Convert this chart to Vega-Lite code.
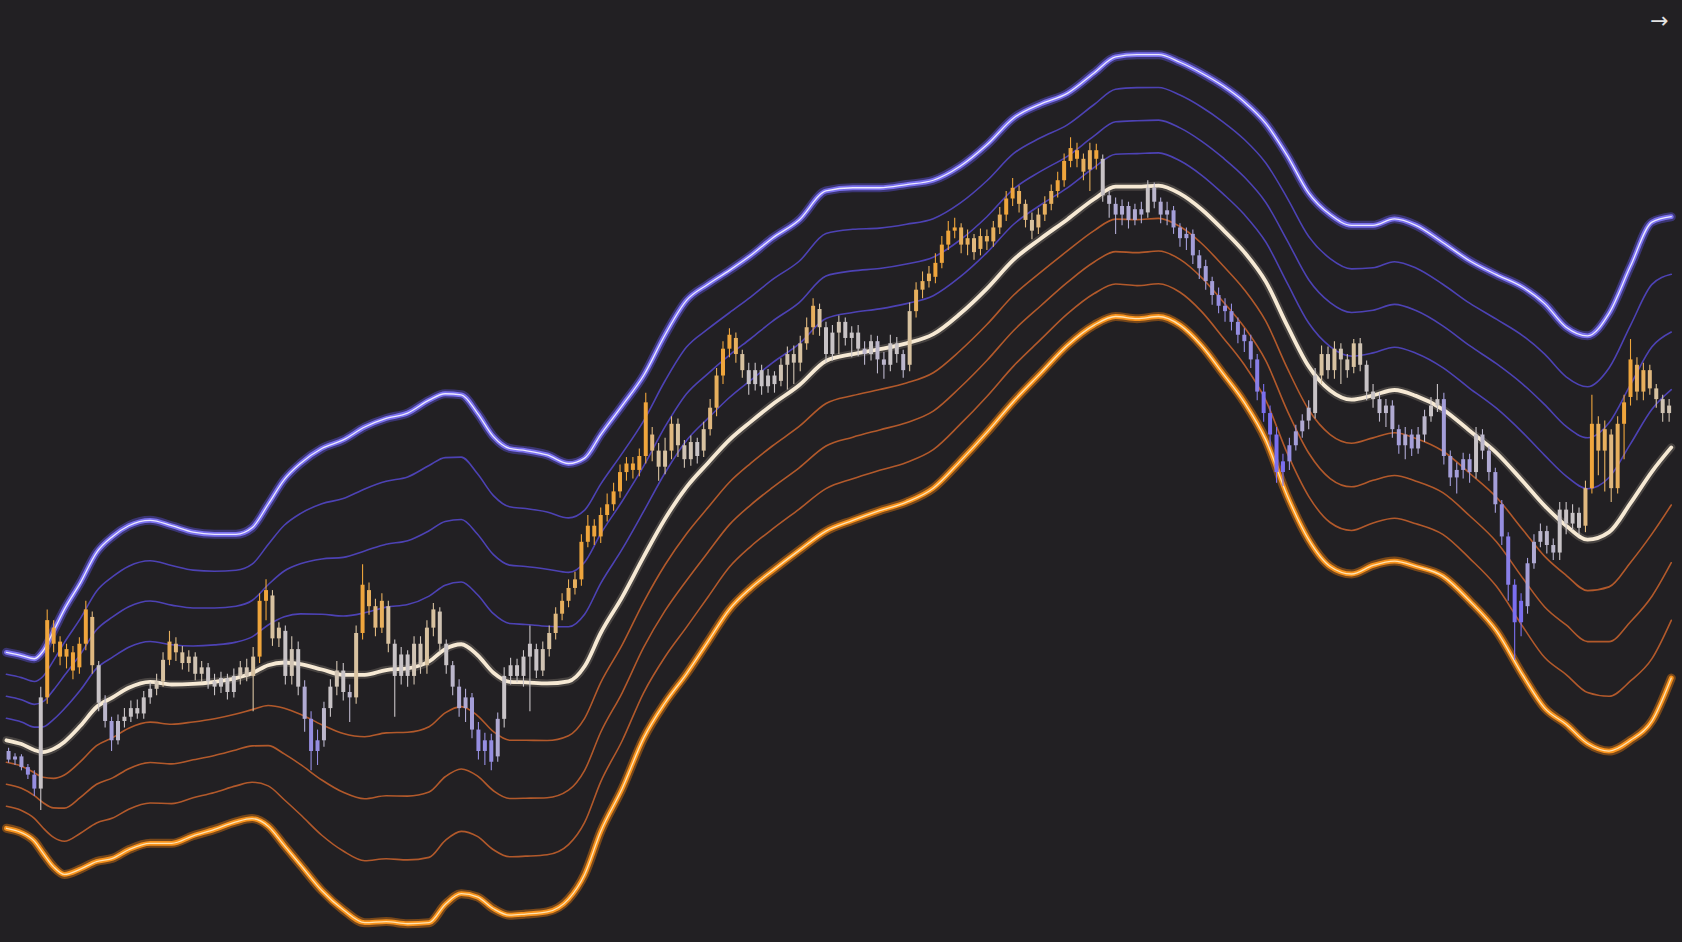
{
"$schema":"https://vega.github.io/schema/vega-lite/v6.json",
"width":1682,"height":942,"padding":0,
"autosize":{"type":"none"},
"background":"#222023",
"config":{"view":{"stroke":null},"axis":{"domain":false,"grid":false,"ticks":false,"labels":false,"title":null},"line":{"strokeJoin":"round","strokeCap":"round"}},
"datasets":{
"bands":[
{"t":6,"l4":106,"l3":126.5,"l2":147,"l1":167.5,"m":188,"u1":208.5,"u2":229,"u3":249.5,"u4":270},
{"t":20,"l4":102,"l3":122.6,"l2":143.3,"l1":163.9,"m":184.5,"u1":205.1,"u2":225.8,"u3":246.4,"u4":267},
{"t":32,"l4":94,"l3":115.3,"l2":136.5,"l1":157.8,"m":179,"u1":200.3,"u2":221.5,"u3":242.8,"u4":264},
{"t":40,"l4":83,"l3":106.5,"l2":130,"l1":153.5,"m":177,"u1":200.5,"u2":224,"u3":247.5,"u4":271},
{"t":50,"l4":70,"l3":97.5,"l2":125,"l1":152.5,"m":180,"u1":207.5,"u2":235,"u3":262.5,"u4":290},
{"t":60,"l4":63,"l3":93.9,"l2":124.8,"l1":155.6,"m":186.5,"u1":217.4,"u2":248.3,"u3":279.1,"u4":310},
{"t":75,"l4":68,"l3":101.4,"l2":134.8,"l1":168.1,"m":201.5,"u1":234.9,"u2":268.3,"u3":301.6,"u4":335},
{"t":90,"l4":75,"l3":111,"l2":147,"l1":183,"m":219,"u1":255,"u2":291,"u3":327,"u4":363},
{"t":105,"l4":78,"l3":115.5,"l2":153,"l1":190.5,"m":228,"u1":265.5,"u2":303,"u3":340.5,"u4":378},
{"t":120,"l4":86,"l3":123.8,"l2":161.5,"l1":199.3,"m":237,"u1":274.8,"u2":312.5,"u3":350.3,"u4":388},
{"t":140,"l4":92,"l3":129.6,"l2":167.3,"l1":204.9,"m":242.5,"u1":280.1,"u2":317.8,"u3":355.4,"u4":393},
{"t":160,"l4":92,"l3":129,"l2":166,"l1":203,"m":240,"u1":277,"u2":314,"u3":351,"u4":388},
{"t":180,"l4":99,"l3":134.4,"l2":169.8,"l1":205.1,"m":240.5,"u1":275.9,"u2":311.3,"u3":346.6,"u4":382},
{"t":200,"l4":105,"l3":139.4,"l2":173.8,"l1":208.1,"m":242.5,"u1":276.9,"u2":311.3,"u3":345.6,"u4":380},
{"t":220,"l4":112,"l3":145.5,"l2":179,"l1":212.5,"m":246,"u1":279.5,"u2":313,"u3":346.5,"u4":380},
{"t":235,"l4":115,"l3":148.9,"l2":182.8,"l1":216.6,"m":250.5,"u1":284.4,"u2":318.3,"u3":352.1,"u4":386},
{"t":250,"l4":108,"l3":145.5,"l2":183,"l1":220.5,"m":258,"u1":295.5,"u2":333,"u3":370.5,"u4":408},
{"t":265,"l4":90,"l3":132.6,"l2":175.3,"l1":217.9,"m":260.5,"u1":303.1,"u2":345.8,"u3":388.4,"u4":431},
{"t":280,"l4":72,"l3":118.8,"l2":165.5,"l1":212.3,"m":259,"u1":305.8,"u2":352.5,"u3":399.3,"u4":446},
{"t":300,"l4":48,"l3":99.5,"l2":151,"l1":202.5,"m":254,"u1":305.5,"u2":357,"u3":408.5,"u4":460},
{"t":320,"l4":30,"l3":84.8,"l2":139.5,"l1":194.3,"m":249,"u1":303.8,"u2":358.5,"u3":413.3,"u4":468},
{"t":340,"l4":18,"l3":75.8,"l2":133.5,"l1":191.3,"m":249,"u1":306.8,"u2":364.5,"u3":422.3,"u4":480},
{"t":360,"l4":19,"l3":77.6,"l2":136.3,"l1":194.9,"m":253.5,"u1":312.1,"u2":370.8,"u3":429.4,"u4":488},
{"t":380,"l4":17,"l3":76.5,"l2":136,"l1":195.5,"m":255,"u1":314.5,"u2":374,"u3":433.5,"u4":493},
{"t":400,"l4":18,"l3":78.9,"l2":139.8,"l1":200.6,"m":261.5,"u1":322.4,"u2":383.3,"u3":444.1,"u4":505},
{"t":415,"l4":35,"l3":94.5,"l2":154,"l1":213.5,"m":273,"u1":332.5,"u2":392,"u3":451.5,"u4":511},
{"t":430,"l4":45,"l3":103.1,"l2":161.3,"l1":219.4,"m":277.5,"u1":335.6,"u2":393.8,"u3":451.9,"u4":510},
{"t":445,"l4":42,"l3":98.4,"l2":154.8,"l1":211.1,"m":267.5,"u1":323.9,"u2":380.3,"u3":436.6,"u4":493},
{"t":460,"l4":31,"l3":86,"l2":141,"l1":196,"m":251,"u1":306,"u2":361,"u3":416,"u4":471},
{"t":475,"l4":25,"l3":79.4,"l2":133.8,"l1":188.1,"m":242.5,"u1":296.9,"u2":351.3,"u3":405.6,"u4":460},
{"t":490,"l4":26,"l3":80,"l2":134,"l1":188,"m":242,"u1":296,"u2":350,"u3":404,"u4":458},
{"t":510,"l4":28,"l3":81.3,"l2":134.5,"l1":187.8,"m":241,"u1":294.3,"u2":347.5,"u3":400.8,"u4":454},
{"t":530,"l4":40,"l3":90.8,"l2":141.5,"l1":192.3,"m":243,"u1":293.8,"u2":344.5,"u3":395.3,"u4":446},
{"t":545,"l4":63,"l3":111.5,"l2":160,"l1":208.5,"m":257,"u1":305.5,"u2":354,"u3":402.5,"u4":451},
{"t":560,"l4":103,"l3":149.3,"l2":195.5,"l1":241.8,"m":288,"u1":334.3,"u2":380.5,"u3":426.8,"u4":473},
{"t":580,"l4":143,"l3":187.6,"l2":232.3,"l1":276.9,"m":321.5,"u1":366.1,"u2":410.8,"u3":455.4,"u4":500},
{"t":600,"l4":190,"l3":232.3,"l2":274.5,"l1":316.8,"m":359,"u1":401.3,"u2":443.5,"u3":485.8,"u4":528},
{"t":620,"l4":223,"l3":265.9,"l2":308.8,"l1":351.6,"m":394.5,"u1":437.4,"u2":480.3,"u3":523.1,"u4":566},
{"t":640,"l4":250,"l3":293.5,"l2":337,"l1":380.5,"m":424,"u1":467.5,"u2":511,"u3":554.5,"u4":598},
{"t":660,"l4":280,"l3":321.6,"l2":363.3,"l1":404.9,"m":446.5,"u1":488.1,"u2":529.8,"u3":571.4,"u4":613},
{"t":680,"l4":310,"l3":349.5,"l2":389,"l1":428.5,"m":468,"u1":507.5,"u2":547,"u3":586.5,"u4":626},
{"t":700,"l4":330,"l3":368.8,"l2":407.5,"l1":446.3,"m":485,"u1":523.8,"u2":562.5,"u3":601.3,"u4":640},
{"t":720,"l4":346,"l3":384.8,"l2":423.5,"l1":462.3,"m":501,"u1":539.8,"u2":578.5,"u3":617.3,"u4":656},
{"t":745,"l4":365,"l3":403.5,"l2":442,"l1":480.5,"m":519,"u1":557.5,"u2":596,"u3":634.5,"u4":673},
{"t":770,"l4":383,"l3":422.6,"l2":462.3,"l1":501.9,"m":541.5,"u1":581.1,"u2":620.8,"u3":660.4,"u4":700},
{"t":795,"l4":393,"l3":431.8,"l2":470.5,"l1":509.3,"m":548,"u1":586.8,"u2":625.5,"u3":664.3,"u4":703},
{"t":820,"l4":402,"l3":439.6,"l2":477.3,"l1":514.9,"m":552.5,"u1":590.1,"u2":627.8,"u3":665.4,"u4":703},
{"t":845,"l4":410,"l3":447,"l2":484,"l1":521,"m":558,"u1":595,"u2":632,"u3":669,"u4":706},
{"t":870,"l4":423,"l3":458.9,"l2":494.8,"l1":530.6,"m":566.5,"u1":602.4,"u2":638.3,"u3":674.1,"u4":710},
{"t":895,"l4":448,"l3":482.4,"l2":516.8,"l1":551.1,"m":585.5,"u1":619.9,"u2":654.3,"u3":688.6,"u4":723},
{"t":920,"l4":475,"l3":508.5,"l2":542,"l1":575.5,"m":609,"u1":642.5,"u2":676,"u3":709.5,"u4":743},
{"t":945,"l4":504,"l3":537,"l2":570,"l1":603,"m":636,"u1":669,"u2":702,"u3":735,"u4":768},
{"t":970,"l4":530,"l3":561.4,"l2":592.8,"l1":624.1,"m":655.5,"u1":686.9,"u2":718.3,"u3":749.6,"u4":781},
{"t":995,"l4":556,"l3":585.4,"l2":614.8,"l1":644.1,"m":673.5,"u1":702.9,"u2":732.3,"u3":761.6,"u4":791},
{"t":1020,"l4":575,"l3":604.4,"l2":633.8,"l1":663.1,"m":692.5,"u1":721.9,"u2":751.3,"u3":780.6,"u4":810},
{"t":1040,"l4":583,"l3":613.3,"l2":643.5,"l1":673.8,"m":704,"u1":734.3,"u2":764.5,"u3":794.8,"u4":825},
{"t":1060,"l4":581,"l3":611.8,"l2":642.5,"l1":673.3,"m":704,"u1":734.8,"u2":765.5,"u3":796.3,"u4":827},
{"t":1080,"l4":583,"l3":613.5,"l2":644,"l1":674.5,"m":705,"u1":735.5,"u2":766,"u3":796.5,"u4":827},
{"t":1100,"l4":575,"l3":605.6,"l2":636.3,"l1":666.9,"m":697.5,"u1":728.1,"u2":758.8,"u3":789.4,"u4":820},
{"t":1120,"l4":556,"l3":587.8,"l2":619.5,"l1":651.3,"m":683,"u1":714.8,"u2":746.5,"u3":778.3,"u4":810},
{"t":1140,"l4":530,"l3":563.5,"l2":597,"l1":630.5,"m":664,"u1":697.5,"u2":731,"u3":764.5,"u4":798},
{"t":1160,"l4":503,"l3":538,"l2":573,"l1":608,"m":643,"u1":678,"u2":713,"u3":748,"u4":783},
{"t":1180,"l4":468,"l3":504.9,"l2":541.8,"l1":578.6,"m":615.5,"u1":652.4,"u2":689.3,"u3":726.1,"u4":763},
{"t":1200,"l4":416,"l3":455.6,"l2":495.3,"l1":534.9,"m":574.5,"u1":614.1,"u2":653.8,"u3":693.4,"u4":733},
{"t":1220,"l4":375,"l3":415.4,"l2":455.8,"l1":496.1,"m":536.5,"u1":576.9,"u2":617.3,"u3":657.6,"u4":698},
{"t":1240,"l4":350,"l3":391,"l2":432,"l1":473,"m":514,"u1":555,"u2":596,"u3":637,"u4":678},
{"t":1260,"l4":343,"l3":383.6,"l2":424.3,"l1":464.9,"m":505.5,"u1":546.1,"u2":586.8,"u3":627.4,"u4":668},
{"t":1280,"l4":351,"l3":390.6,"l2":430.3,"l1":469.9,"m":509.5,"u1":549.1,"u2":588.8,"u3":628.4,"u4":668},
{"t":1300,"l4":355,"l3":394.9,"l2":434.8,"l1":474.6,"m":514.5,"u1":554.4,"u2":594.3,"u3":634.1,"u4":674},
{"t":1320,"l4":350,"l3":389.8,"l2":429.5,"l1":469.3,"m":509,"u1":548.8,"u2":588.5,"u3":628.3,"u4":668},
{"t":1345,"l4":341,"l3":379.9,"l2":418.8,"l1":457.6,"m":496.5,"u1":535.4,"u2":574.3,"u3":613.1,"u4":652},
{"t":1370,"l4":318,"l3":357.6,"l2":397.3,"l1":436.9,"m":476.5,"u1":516.1,"u2":555.8,"u3":595.4,"u4":635},
{"t":1395,"l4":290,"l3":331.5,"l2":373,"l1":414.5,"m":456,"u1":497.5,"u2":539,"u3":580.5,"u4":622},
{"t":1420,"l4":248,"l3":293.3,"l2":338.5,"l1":383.8,"m":429,"u1":474.3,"u2":519.5,"u3":564.8,"u4":610},
{"t":1440,"l4":218,"l3":265.1,"l2":312.3,"l1":359.4,"m":406.5,"u1":453.6,"u2":500.8,"u3":547.9,"u4":595},
{"t":1460,"l4":203,"l3":249.3,"l2":295.5,"l1":341.8,"m":388,"u1":434.3,"u2":480.5,"u3":526.8,"u4":573},
{"t":1480,"l4":185,"l3":232.5,"l2":280,"l1":327.5,"m":375,"u1":422.5,"u2":470,"u3":517.5,"u4":565},
{"t":1500,"l4":178,"l3":229,"l2":280,"l1":331,"m":382,"u1":433,"u2":484,"u3":535,"u4":586},
{"t":1520,"l4":188,"l3":243.3,"l2":298.5,"l1":353.8,"m":409,"u1":464.3,"u2":519.5,"u3":574.8,"u4":630},
{"t":1540,"l4":206,"l3":264.1,"l2":322.3,"l1":380.4,"m":438.5,"u1":496.6,"u2":554.8,"u3":612.9,"u4":671},
{"t":1558,"l4":246,"l3":299.8,"l2":353.5,"l1":407.3,"m":461,"u1":514.8,"u2":568.5,"u3":622.3,"u4":676}
],
"candles":[
{"t":8,"o":178,"c":170,"h":181,"l":167,"z":-1.5},
{"t":14,"o":170,"c":173,"h":176,"l":165,"z":-1.5},
{"t":20,"o":173,"c":163,"h":175,"l":160,"z":-1.5},
{"t":26,"o":163,"c":156,"h":166,"l":152,"z":-2},
{"t":32,"o":156,"c":143,"h":160,"l":136,"z":-2},
{"t":38,"o":143,"c":228,"h":238,"l":123,"z":0},
{"t":44,"o":228,"c":300,"h":310,"l":222,"z":2.5},
{"t":50,"o":293,"c":278,"h":300,"l":270,"z":2.5},
{"t":56,"o":280,"c":266,"h":285,"l":258,"z":2.5},
{"t":62,"o":266,"c":273,"h":278,"l":255,"z":2.5},
{"t":68,"o":270,"c":253,"h":276,"l":245,"z":2.5},
{"t":74,"o":256,"c":278,"h":284,"l":250,"z":2.5},
{"t":80,"o":278,"c":310,"h":318,"l":272,"z":2.5},
{"t":86,"o":303,"c":258,"h":308,"l":250,"z":1.5},
{"t":92,"o":258,"c":223,"h":262,"l":215,"z":0},
{"t":98,"o":223,"c":206,"h":230,"l":200,"z":-0.5},
{"t":104,"o":206,"c":188,"h":210,"l":178,"z":-1.5},
{"t":110,"o":188,"c":206,"h":212,"l":184,"z":-0.5},
{"t":116,"o":206,"c":210,"h":218,"l":200,"z":0},
{"t":122,"o":210,"c":218,"h":225,"l":205,"z":0},
{"t":128,"o":218,"c":213,"h":226,"l":208,"z":0},
{"t":134,"o":213,"c":228,"h":234,"l":208,"z":0},
{"t":140,"o":228,"c":236,"h":242,"l":222,"z":0},
{"t":146,"o":236,"c":243,"h":250,"l":230,"z":0.5},
{"t":152,"o":243,"c":263,"h":270,"l":238,"z":1},
{"t":158,"o":263,"c":280,"h":290,"l":258,"z":2},
{"t":164,"o":278,"c":270,"h":284,"l":262,"z":1.5},
{"t":170,"o":270,"c":260,"h":276,"l":254,"z":1},
{"t":176,"o":260,"c":266,"h":272,"l":252,"z":1},
{"t":182,"o":266,"c":250,"h":270,"l":244,"z":0.5},
{"t":188,"o":250,"c":256,"h":262,"l":242,"z":0.5},
{"t":194,"o":256,"c":243,"h":260,"l":236,"z":0},
{"t":200,"o":243,"c":238,"h":250,"l":230,"z":0},
{"t":206,"o":238,"c":246,"h":252,"l":232,"z":0},
{"t":212,"o":246,"c":233,"h":250,"l":226,"z":0},
{"t":218,"o":233,"c":248,"h":255,"l":228,"z":0},
{"t":224,"o":248,"c":256,"h":262,"l":240,"z":0.5},
{"t":230,"o":256,"c":248,"h":264,"l":243,"z":0.5},
{"t":236,"o":248,"c":266,"h":275,"l":215,"z":1},
{"t":242,"o":266,"c":318,"h":325,"l":260,"z":2.5},
{"t":248,"o":318,"c":328,"h":338,"l":300,"z":2.5},
{"t":254,"o":323,"c":283,"h":328,"l":276,"z":1},
{"t":260,"o":283,"c":293,"h":298,"l":275,"z":1},
{"t":266,"o":290,"c":248,"h":295,"l":240,"z":0},
{"t":272,"o":248,"c":273,"h":285,"l":240,"z":0.5},
{"t":278,"o":273,"c":238,"h":280,"l":230,"z":0},
{"t":284,"o":238,"c":208,"h":244,"l":196,"z":-1},
{"t":290,"o":208,"c":178,"h":215,"l":160,"z":-2},
{"t":296,"o":178,"c":188,"h":198,"l":165,"z":-2},
{"t":302,"o":188,"c":218,"h":224,"l":182,"z":-0.5},
{"t":308,"o":218,"c":238,"h":245,"l":210,"z":0},
{"t":314,"o":238,"c":253,"h":262,"l":230,"z":0.5},
{"t":320,"o":253,"c":233,"h":260,"l":225,"z":0},
{"t":326,"o":233,"c":228,"h":240,"l":205,"z":-0.5},
{"t":332,"o":228,"c":288,"h":295,"l":222,"z":1},
{"t":338,"o":288,"c":333,"h":352,"l":282,"z":2.5},
{"t":344,"o":328,"c":313,"h":335,"l":305,"z":2},
{"t":350,"o":313,"c":293,"h":320,"l":285,"z":1.5},
{"t":356,"o":293,"c":318,"h":325,"l":288,"z":2},
{"t":362,"o":313,"c":278,"h":318,"l":270,"z":1},
{"t":368,"o":278,"c":248,"h":282,"l":210,"z":0},
{"t":374,"o":248,"c":268,"h":275,"l":240,"z":0},
{"t":380,"o":268,"c":248,"h":272,"l":238,"z":0},
{"t":386,"o":248,"c":278,"h":285,"l":240,"z":0.5},
{"t":392,"o":278,"c":258,"h":285,"l":250,"z":0.5},
{"t":398,"o":258,"c":293,"h":300,"l":250,"z":1},
{"t":404,"o":293,"c":310,"h":316,"l":285,"z":1},
{"t":410,"o":308,"c":278,"h":312,"l":270,"z":0.5},
{"t":416,"o":278,"c":258,"h":282,"l":250,"z":0},
{"t":422,"o":258,"c":238,"h":262,"l":230,"z":-0.5},
{"t":428,"o":238,"c":218,"h":245,"l":210,"z":-1},
{"t":434,"o":218,"c":228,"h":236,"l":205,"z":-1},
{"t":440,"o":228,"c":198,"h":232,"l":190,"z":-1.5},
{"t":446,"o":198,"c":178,"h":205,"l":170,"z":-2},
{"t":452,"o":178,"c":188,"h":195,"l":165,"z":-2},
{"t":458,"o":188,"c":168,"h":194,"l":160,"z":-2},
{"t":464,"o":173,"c":208,"h":214,"l":168,"z":-1},
{"t":470,"o":208,"c":248,"h":256,"l":200,"z":0},
{"t":476,"o":248,"c":258,"h":265,"l":240,"z":0},
{"t":482,"o":258,"c":248,"h":264,"l":242,"z":0},
{"t":488,"o":248,"c":266,"h":272,"l":238,"z":0},
{"t":494,"o":266,"c":278,"h":295,"l":215,"z":0},
{"t":500,"o":273,"c":253,"h":278,"l":246,"z":0},
{"t":506,"o":253,"c":273,"h":280,"l":248,"z":0.5},
{"t":512,"o":273,"c":288,"h":295,"l":266,"z":1},
{"t":518,"o":288,"c":306,"h":312,"l":282,"z":1.5},
{"t":524,"o":306,"c":318,"h":325,"l":300,"z":2},
{"t":530,"o":318,"c":330,"h":338,"l":312,"z":2},
{"t":536,"o":330,"c":338,"h":345,"l":324,"z":2},
{"t":542,"o":338,"c":373,"h":380,"l":332,"z":2.5},
{"t":548,"o":373,"c":388,"h":398,"l":368,"z":2.5},
{"t":554,"o":388,"c":378,"h":394,"l":370,"z":2.5},
{"t":560,"o":378,"c":398,"h":405,"l":372,"z":2.5},
{"t":566,"o":398,"c":408,"h":418,"l":392,"z":2.5},
{"t":572,"o":408,"c":420,"h":428,"l":402,"z":2.5},
{"t":578,"o":420,"c":438,"h":445,"l":414,"z":2.5},
{"t":584,"o":438,"c":446,"h":452,"l":430,"z":2.5},
{"t":590,"o":446,"c":440,"h":452,"l":432,"z":2.5},
{"t":596,"o":440,"c":453,"h":460,"l":434,"z":2.5},
{"t":602,"o":453,"c":503,"h":512,"l":446,"z":2.5},
{"t":608,"o":473,"c":458,"h":480,"l":448,"z":1.5},
{"t":614,"o":458,"c":443,"h":465,"l":430,"z":1},
{"t":620,"o":443,"c":458,"h":470,"l":436,"z":1},
{"t":626,"o":458,"c":483,"h":490,"l":450,"z":1.5},
{"t":632,"o":483,"c":463,"h":488,"l":452,"z":1},
{"t":638,"o":463,"c":450,"h":468,"l":442,"z":0.5},
{"t":644,"o":450,"c":466,"h":472,"l":444,"z":0.5},
{"t":650,"o":466,"c":453,"h":470,"l":446,"z":0},
{"t":656,"o":458,"c":478,"h":485,"l":452,"z":1},
{"t":662,"o":478,"c":498,"h":506,"l":472,"z":1.5},
{"t":668,"o":498,"c":528,"h":535,"l":490,"z":2},
{"t":674,"o":528,"c":553,"h":560,"l":520,"z":2.5},
{"t":680,"o":553,"c":566,"h":572,"l":545,"z":2.5},
{"t":686,"o":563,"c":548,"h":568,"l":540,"z":2},
{"t":692,"o":548,"c":533,"h":552,"l":526,"z":1},
{"t":698,"o":533,"c":520,"h":540,"l":510,"z":0},
{"t":704,"o":520,"c":533,"h":540,"l":514,"z":0},
{"t":710,"o":533,"c":518,"h":538,"l":510,"z":0},
{"t":716,"o":518,"c":528,"h":534,"l":512,"z":0},
{"t":722,"o":528,"c":520,"h":532,"l":512,"z":0},
{"t":728,"o":523,"c":538,"h":544,"l":518,"z":0.5},
{"t":734,"o":538,"c":548,"h":555,"l":515,"z":0.5},
{"t":740,"o":548,"c":540,"h":556,"l":520,"z":0.5},
{"t":746,"o":540,"c":558,"h":565,"l":532,"z":1},
{"t":752,"o":558,"c":573,"h":582,"l":552,"z":1.5},
{"t":758,"o":573,"c":593,"h":600,"l":566,"z":2},
{"t":764,"o":590,"c":573,"h":595,"l":565,"z":1},
{"t":770,"o":573,"c":548,"h":578,"l":540,"z":0},
{"t":776,"o":548,"c":568,"h":575,"l":542,"z":0},
{"t":782,"o":568,"c":578,"h":584,"l":548,"z":0.5},
{"t":788,"o":578,"c":563,"h":582,"l":556,"z":0},
{"t":794,"o":563,"c":568,"h":574,"l":545,"z":0},
{"t":800,"o":568,"c":553,"h":575,"l":546,"z":0},
{"t":806,"o":553,"c":548,"h":560,"l":538,"z":-0.5},
{"t":812,"o":548,"c":560,"h":566,"l":542,"z":0},
{"t":818,"o":560,"c":543,"h":565,"l":530,"z":-0.5},
{"t":824,"o":543,"c":538,"h":550,"l":525,"z":-0.5},
{"t":830,"o":538,"c":558,"h":566,"l":532,"z":0},
{"t":836,"o":558,"c":548,"h":564,"l":540,"z":0},
{"t":842,"o":548,"c":533,"h":552,"l":526,"z":-0.5},
{"t":848,"o":538,"c":588,"h":596,"l":532,"z":1},
{"t":854,"o":588,"c":608,"h":615,"l":582,"z":2},
{"t":860,"o":608,"c":616,"h":625,"l":600,"z":2},
{"t":866,"o":616,"c":623,"h":630,"l":610,"z":2},
{"t":872,"o":620,"c":633,"h":642,"l":614,"z":2.5},
{"t":878,"o":633,"c":650,"h":658,"l":628,"z":2.5},
{"t":884,"o":650,"c":663,"h":672,"l":645,"z":2.5},
{"t":890,"o":663,"c":666,"h":675,"l":656,"z":2.5},
{"t":896,"o":666,"c":650,"h":670,"l":642,"z":2},
{"t":902,"o":650,"c":656,"h":664,"l":640,"z":2},
{"t":908,"o":656,"c":643,"h":660,"l":636,"z":1.5},
{"t":914,"o":646,"c":658,"h":665,"l":640,"z":2},
{"t":920,"o":658,"c":653,"h":664,"l":645,"z":2},
{"t":926,"o":653,"c":666,"h":672,"l":648,"z":2},
{"t":932,"o":666,"c":678,"h":685,"l":660,"z":2},
{"t":938,"o":678,"c":693,"h":700,"l":672,"z":2.5},
{"t":944,"o":693,"c":703,"h":712,"l":686,"z":2.5},
{"t":950,"o":700,"c":688,"h":705,"l":680,"z":2},
{"t":956,"o":688,"c":673,"h":692,"l":666,"z":1.5},
{"t":962,"o":673,"c":663,"h":680,"l":655,"z":1},
{"t":968,"o":666,"c":678,"h":684,"l":660,"z":1.5},
{"t":974,"o":678,"c":688,"h":695,"l":672,"z":2},
{"t":980,"o":688,"c":700,"h":706,"l":682,"z":2},
{"t":986,"o":700,"c":710,"h":718,"l":694,"z":2.5},
{"t":992,"o":710,"c":728,"h":735,"l":704,"z":2.5},
{"t":998,"o":728,"c":740,"h":750,"l":722,"z":2.5},
{"t":1004,"o":738,"c":730,"h":745,"l":722,"z":2.5},
{"t":1010,"o":730,"c":718,"h":735,"l":710,"z":2},
{"t":1016,"o":720,"c":738,"h":745,"l":700,"z":2},
{"t":1022,"o":738,"c":730,"h":744,"l":720,"z":2.5},
{"t":1028,"o":730,"c":696,"h":734,"l":690,"z":0},
{"t":1034,"o":696,"c":688,"h":700,"l":675,"z":-0.5},
{"t":1040,"o":688,"c":678,"h":694,"l":660,"z":-1},
{"t":1046,"o":678,"c":686,"h":692,"l":668,"z":-1},
{"t":1052,"o":686,"c":673,"h":690,"l":665,"z":-1},
{"t":1058,"o":673,"c":683,"h":688,"l":668,"z":-1},
{"t":1064,"o":683,"c":678,"h":690,"l":670,"z":-1},
{"t":1070,"o":680,"c":703,"h":710,"l":675,"z":0},
{"t":1076,"o":703,"c":690,"h":708,"l":684,"z":-0.5},
{"t":1082,"o":690,"c":678,"h":694,"l":670,"z":-1},
{"t":1088,"o":678,"c":682,"h":690,"l":668,"z":-1},
{"t":1094,"o":682,"c":666,"h":686,"l":660,"z":-1.5},
{"t":1100,"o":666,"c":656,"h":670,"l":648,"z":-1.5},
{"t":1106,"o":656,"c":660,"h":666,"l":645,"z":-1.5},
{"t":1112,"o":660,"c":640,"h":664,"l":632,"z":-1.5},
{"t":1118,"o":640,"c":628,"h":645,"l":618,"z":-1.5},
{"t":1124,"o":630,"c":616,"h":636,"l":608,"z":-1.5},
{"t":1130,"o":616,"c":603,"h":620,"l":594,"z":-1.5},
{"t":1136,"o":603,"c":593,"h":610,"l":586,"z":-2},
{"t":1142,"o":593,"c":588,"h":600,"l":578,"z":-2},
{"t":1148,"o":588,"c":578,"h":595,"l":570,"z":-2},
{"t":1154,"o":578,"c":566,"h":582,"l":558,"z":-2},
{"t":1160,"o":566,"c":560,"h":572,"l":550,"z":-2},
{"t":1166,"o":560,"c":543,"h":566,"l":535,"z":-2},
{"t":1172,"o":543,"c":513,"h":548,"l":505,"z":-2.5},
{"t":1178,"o":513,"c":493,"h":520,"l":485,"z":-3},
{"t":1184,"o":493,"c":473,"h":500,"l":462,"z":-3},
{"t":1190,"o":473,"c":438,"h":480,"l":428,"z":-3},
{"t":1196,"o":438,"c":448,"h":455,"l":425,"z":-3},
{"t":1202,"o":448,"c":463,"h":470,"l":440,"z":-2},
{"t":1208,"o":463,"c":476,"h":482,"l":458,"z":-1.5},
{"t":1214,"o":476,"c":486,"h":492,"l":470,"z":-1},
{"t":1220,"o":486,"c":498,"h":505,"l":478,"z":-0.5},
{"t":1226,"o":493,"c":528,"h":535,"l":488,"z":0},
{"t":1232,"o":528,"c":548,"h":556,"l":520,"z":1},
{"t":1238,"o":548,"c":533,"h":555,"l":525,"z":0.5},
{"t":1244,"o":533,"c":553,"h":560,"l":525,"z":1},
{"t":1250,"o":553,"c":543,"h":558,"l":520,"z":0.5},
{"t":1256,"o":543,"c":533,"h":548,"l":526,"z":0.5},
{"t":1262,"o":536,"c":558,"h":562,"l":530,"z":1},
{"t":1268,"o":558,"c":538,"h":563,"l":532,"z":0.5},
{"t":1274,"o":538,"c":513,"h":542,"l":505,"z":0},
{"t":1280,"o":513,"c":506,"h":520,"l":498,"z":0},
{"t":1286,"o":506,"c":493,"h":512,"l":485,"z":-0.5},
{"t":1292,"o":493,"c":500,"h":506,"l":480,"z":-0.5},
{"t":1298,"o":500,"c":478,"h":505,"l":470,"z":-1},
{"t":1304,"o":478,"c":463,"h":482,"l":455,"z":-1.5},
{"t":1310,"o":463,"c":473,"h":480,"l":450,"z":-1},
{"t":1316,"o":473,"c":460,"h":478,"l":453,"z":-1.5},
{"t":1322,"o":460,"c":473,"h":480,"l":455,"z":-1},
{"t":1328,"o":473,"c":490,"h":496,"l":466,"z":-0.5},
{"t":1334,"o":490,"c":500,"h":508,"l":485,"z":0},
{"t":1340,"o":500,"c":506,"h":520,"l":494,"z":0},
{"t":1346,"o":506,"c":453,"h":512,"l":445,"z":-1.5},
{"t":1352,"o":453,"c":433,"h":458,"l":425,"z":-1.5},
{"t":1358,"o":433,"c":440,"h":447,"l":418,"z":-1.5},
{"t":1364,"o":440,"c":450,"h":456,"l":432,"z":-1.5},
{"t":1370,"o":450,"c":438,"h":455,"l":428,"z":-1.5},
{"t":1376,"o":438,"c":473,"h":480,"l":432,"z":0},
{"t":1382,"o":473,"c":458,"h":478,"l":450,"z":-0.5},
{"t":1388,"o":458,"c":438,"h":462,"l":430,"z":-1},
{"t":1394,"o":438,"c":408,"h":442,"l":400,"z":-1.5},
{"t":1400,"o":408,"c":378,"h":412,"l":370,"z":-2},
{"t":1406,"o":378,"c":333,"h":382,"l":318,"z":-2.5},
{"t":1412,"o":333,"c":298,"h":338,"l":263,"z":-3},
{"t":1418,"o":298,"c":318,"h":325,"l":285,"z":-3},
{"t":1424,"o":313,"c":353,"h":358,"l":306,"z":-1.5},
{"t":1430,"o":353,"c":373,"h":380,"l":348,"z":-1},
{"t":1436,"o":373,"c":383,"h":390,"l":368,"z":-0.5},
{"t":1442,"o":383,"c":370,"h":388,"l":362,"z":-0.5},
{"t":1448,"o":370,"c":363,"h":376,"l":356,"z":-0.5},
{"t":1454,"o":363,"c":403,"h":410,"l":356,"z":0},
{"t":1460,"o":403,"c":390,"h":410,"l":380,"z":0},
{"t":1466,"o":390,"c":400,"h":408,"l":384,"z":0},
{"t":1472,"o":400,"c":386,"h":405,"l":380,"z":0},
{"t":1478,"o":388,"c":423,"h":430,"l":382,"z":1.5},
{"t":1484,"o":423,"c":483,"h":510,"l":418,"z":2.5},
{"t":1490,"o":483,"c":458,"h":490,"l":435,"z":2},
{"t":1496,"o":458,"c":478,"h":486,"l":420,"z":2},
{"t":1502,"o":473,"c":423,"h":478,"l":410,"z":1.5},
{"t":1508,"o":423,"c":483,"h":490,"l":418,"z":2},
{"t":1514,"o":483,"c":503,"h":510,"l":450,"z":2.5},
{"t":1520,"o":508,"c":543,"h":562,"l":500,"z":2.5},
{"t":1526,"o":538,"c":513,"h":545,"l":505,"z":2},
{"t":1532,"o":513,"c":533,"h":540,"l":505,"z":2},
{"t":1538,"o":533,"c":516,"h":538,"l":510,"z":1.5},
{"t":1544,"o":516,"c":506,"h":520,"l":498,"z":1},
{"t":1550,"o":506,"c":493,"h":510,"l":485,"z":0.5},
{"t":1556,"o":493,"c":500,"h":506,"l":485,"z":0.5}
],
"icon":[{"t":1547,"p":858,"label":"→"}]
},
"encoding":{"x":{"field":"t","type":"quantitative","scale":{"domain":[0,1568],"nice":false,"zero":false,"padding":0},"axis":null}},
"layer":[
{"data":{"name":"bands"},"transform":[{"fold":["u1","u2","u3"],"as":["band","v"]}],
 "mark":{"type":"line","interpolate":"monotone","strokeWidth":1.6,"color":"#4d42b4"},
 "encoding":{"y":{"field":"v","type":"quantitative","scale":{"domain":[0,878],"nice":false,"zero":false,"padding":0},"axis":null},"detail":{"field":"band"}}},
{"data":{"name":"bands"},"transform":[{"fold":["l1","l2","l3"],"as":["band","v"]}],
 "mark":{"type":"line","interpolate":"monotone","strokeWidth":1.6,"color":"#b2592b"},
 "encoding":{"y":{"field":"v","type":"quantitative","axis":null},"detail":{"field":"band"}}},
{"data":{"name":"bands"},"mark":{"type":"line","interpolate":"monotone","strokeWidth":9,"color":"#5a4fd4","opacity":0.45},"encoding":{"y":{"field":"u4","type":"quantitative","axis":null}}},
{"data":{"name":"bands"},"mark":{"type":"line","interpolate":"monotone","strokeWidth":4.8,"color":"#7b71ee"},"encoding":{"y":{"field":"u4","type":"quantitative","axis":null}}},
{"data":{"name":"bands"},"mark":{"type":"line","interpolate":"monotone","strokeWidth":1.3,"color":"#ebe8ff"},"encoding":{"y":{"field":"u4","type":"quantitative","axis":null}}},
{"data":{"name":"bands"},"mark":{"type":"line","interpolate":"monotone","strokeWidth":9,"color":"#e07810","opacity":0.45},"encoding":{"y":{"field":"l4","type":"quantitative","axis":null}}},
{"data":{"name":"bands"},"mark":{"type":"line","interpolate":"monotone","strokeWidth":4.8,"color":"#f7921c"},"encoding":{"y":{"field":"l4","type":"quantitative","axis":null}}},
{"data":{"name":"bands"},"mark":{"type":"line","interpolate":"monotone","strokeWidth":1.3,"color":"#ffe2b0"},"encoding":{"y":{"field":"l4","type":"quantitative","axis":null}}},
{"data":{"name":"bands"},"mark":{"type":"line","interpolate":"monotone","strokeWidth":8,"color":"#f3e4cc","opacity":0.18},"encoding":{"y":{"field":"m","type":"quantitative","axis":null}}},
{"data":{"name":"bands"},"mark":{"type":"line","interpolate":"monotone","strokeWidth":3.8,"color":"#f6e9d4"},"encoding":{"y":{"field":"m","type":"quantitative","axis":null}}},
{"data":{"name":"candles"},"mark":{"type":"rule","strokeWidth":1.1},
 "encoding":{"y":{"field":"l","type":"quantitative","axis":null},"y2":{"field":"h"},
  "color":{"field":"z","type":"quantitative","legend":null,"scale":{"domain":[-3,-1.5,0,1,2.5],"range":["#7b6ff0","#a49ed9","#c8c3c6","#d8c2a0","#efa53c"],"interpolate":"rgb"}}}},
{"data":{"name":"candles"},"mark":{"type":"bar","size":4},
 "encoding":{"y":{"field":"o","type":"quantitative","axis":null},"y2":{"field":"c"},
  "color":{"field":"z","type":"quantitative","legend":null}}},
{"data":{"name":"icon"},"mark":{"type":"text","fontSize":22,"color":"#e2e2e2","font":"DejaVu Sans"},
 "encoding":{"y":{"field":"p","type":"quantitative","axis":null},"text":{"field":"label"}}}
]
}
